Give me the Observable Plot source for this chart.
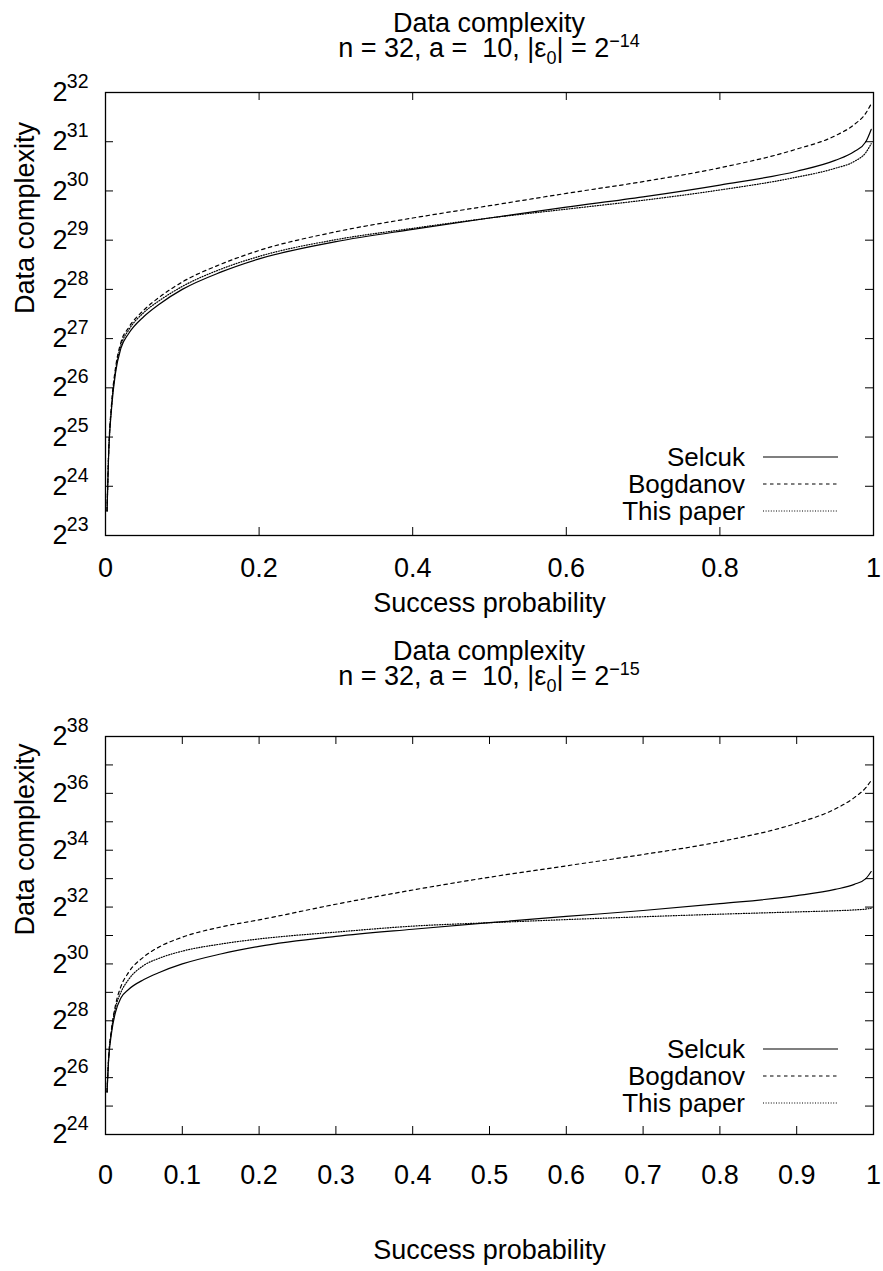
<!DOCTYPE html>
<html><head><meta charset="utf-8">
<script src="https://cdn.jsdelivr.net/npm/d3@7"></script>
<script src="https://cdn.jsdelivr.net/npm/@observablehq/plot@0.6"></script>
<style>
html,body{margin:0;padding:0;background:#fff;}
#page{position:relative;width:883px;height:1271px;overflow:hidden;font-family:"Liberation Sans",Arial,sans-serif;color:#000;}
.panel{position:absolute;left:0;width:883px;}
.panel svg{position:absolute;left:0;top:0;}
.title{position:absolute;left:105px;width:768px;text-align:center;font-size:27px;line-height:25px;white-space:pre;}
.sup{font-size:18px;position:relative;top:-10px;line-height:0;}
.sub{font-size:18px;position:relative;top:7px;line-height:0;}
</style></head><body><div id="page"></div>
<script>
// ---- data (exponents of 2) ----
const probs = [0.002,0.004,0.008,0.013,0.02,0.03,0.05,0.07,0.1,0.15,0.2,0.3,0.4,0.5,0.6,0.7,0.8,0.9,0.95,0.975,0.99,0.997];
const seriesNames = ["Selcuk", "Bogdanov", "This paper"];

const topSelcuk    = [23.5,24.6,25.6,26.3,26.8,27.1,27.45,27.7,28.0,28.35,28.62,28.97,29.22,29.45,29.67,29.88,30.12,30.4,30.62,30.8,31.0,31.25];
const topBogdanov  = [23.5,24.65,25.7,26.4,26.92,27.22,27.58,27.84,28.15,28.51,28.79,29.17,29.45,29.7,29.95,30.19,30.47,30.85,31.12,31.35,31.58,31.77];
const topThisPaper = [23.5,24.62,25.65,26.35,26.86,27.17,27.53,27.77,28.06,28.41,28.67,29.01,29.24,29.45,29.63,29.81,30.02,30.28,30.46,30.6,30.78,30.96];

const botSelcuk    = [25.5,26.6,27.6,28.3,28.8,29.1,29.45,29.7,30.0,30.35,30.62,30.97,31.22,31.45,31.67,31.88,32.12,32.4,32.62,32.8,33.0,33.25];
const botBogdanov  = [25.5,26.65,27.75,28.55,29.2,29.7,30.25,30.6,30.94,31.3,31.55,32.1,32.6,33.05,33.45,33.85,34.3,34.95,35.45,35.85,36.2,36.45];
const botThisPaper = [25.5,26.65,27.7,28.45,29.0,29.45,29.95,30.2,30.45,30.7,30.88,31.12,31.33,31.45,31.56,31.66,31.75,31.83,31.87,31.9,31.93,31.96];

const topXTicks  = [0,0.2,0.4,0.6,0.8,1];
const topXLabels = ["0","0.2","0.4","0.6","0.8","1"];
const topYTicks  = [23,24,25,26,27,28,29,30,31,32];
const topYLabelTicks = [23,24,25,26,27,28,29,30,31,32];

const botXTicks  = [0,0.1,0.2,0.3,0.4,0.5,0.6,0.7,0.8,0.9,1];
const botXLabels = ["0","0.1","0.2","0.3","0.4","0.5","0.6","0.7","0.8","0.9","1"];
const botYTicks  = [24,25,26,27,28,29,30,31,32,33,34,35,36,37,38];
const botYLabelTicks = [24,26,28,30,32,34,36,38];

const titleLine1 = "Data complexity";
const epsExponents = ["−14", "−15"];
const xTitle = "Success probability";
const yTitle = "Data complexity";

const dashes = {"Selcuk": null, "Bogdanov": "3.5,3.5", "This paper": "1,1.6"};

// ---- drawing ----
const page = document.getElementById("page");
const W = 883, ML = 105, MR = 10;

function panel(cfg) {
  const div = document.createElement("div");
  div.className = "panel";
  div.style.top = cfg.top + "px";
  div.style.height = cfg.height + "px";
  page.appendChild(div);

  const innerW = W - ML - MR;
  const innerH = cfg.height - cfg.marginTop - cfg.marginBottom;
  const data = cfg.series.flatMap((vals, s) => vals.map((v, i) => ({p: probs[i], v, s: seriesNames[s]})));

  const chart = Plot.plot({
    width: W, height: cfg.height,
    marginLeft: ML, marginRight: MR, marginTop: cfg.marginTop, marginBottom: cfg.marginBottom,
    style: {fontFamily: "Liberation Sans, Arial, sans-serif", color: "black", background: "transparent", overflow: "visible"},
    x: {domain: [0, 1]},
    y: {domain: cfg.yDomain, axis: null},
    marks: [
      Plot.tickY(cfg.yTicks, {y: d => d, insetRight: innerW - 8, stroke: "black", strokeWidth: 1}),
      Plot.tickY(cfg.yTicks, {y: d => d, insetLeft: innerW - 8, stroke: "black", strokeWidth: 1}),
      Plot.tickX(cfg.xTicks, {x: d => d, insetTop: innerH - 8, stroke: "black", strokeWidth: 1}),
      Plot.tickX(cfg.xTicks, {x: d => d, insetBottom: innerH - 8, stroke: "black", strokeWidth: 1}),
      ...seriesNames.map(name => Plot.line(data.filter(d => d.s === name), {
        x: "p", y: "v", stroke: "black", strokeWidth: 1.2,
        strokeDasharray: dashes[name], curve: "monotone-x", clip: true
      })),
      Plot.frame({stroke: "black", strokeWidth: 1.3}),
      Plot.axisX(cfg.xTicks, {tickSize: 0, tickPadding: cfg.xTickPadding, fontSize: 27,
        tickFormat: d => cfg.xLabels[cfg.xTicks.indexOf(d)], label: null}),
      Plot.text(cfg.yLabelTicks, {y: d => d, frameAnchor: "left", text: () => "2", textAnchor: "end", dx: -38, fontSize: 27}),
      Plot.text(cfg.yLabelTicks, {y: d => d, frameAnchor: "left", text: d => String(d), textAnchor: "end", dx: -17, dy: -11, fontSize: 19.5}),
      Plot.text([xTitle], {text: d => d, frameAnchor: "bottom", dy: cfg.xLabelDy, fontSize: 27}),
      Plot.text([yTitle], {text: d => d, frameAnchor: "left", dx: -80, rotate: -90, fontSize: 27})
    ]
  });
  div.appendChild(chart);

  // title
  const t = document.createElement("div");
  t.className = "title";
  t.style.top = cfg.titleTop + "px";
  t.innerHTML = `${titleLine1}<br>n = 32, a =  10, |ε<span class="sub">0</span>| = 2<span class="sup">${cfg.epsExp}</span>`;
  div.appendChild(t);

  // legend
  const lg = d3.select(div).append("svg").attr("width", W).attr("height", cfg.height)
    .style("pointer-events", "none");
  seriesNames.forEach((name, i) => {
    const y = cfg.legendY + i * 27;
    lg.append("text").attr("x", 745).attr("y", y).attr("text-anchor", "end")
      .attr("dy", "0.35em").attr("font-size", 26)
      .attr("font-family", "Liberation Sans, Arial, sans-serif").text(name);
    lg.append("line").attr("x1", 763).attr("x2", 838).attr("y1", y).attr("y2", y)
      .attr("stroke", "black").attr("stroke-width", 1.2)
      .attr("stroke-dasharray", dashes[name]);
  });
}

panel({top: 0, height: 635, marginTop: 92, marginBottom: 100, yDomain: [23, 32],
  series: [topSelcuk, topBogdanov, topThisPaper],
  xTicks: topXTicks, xLabels: topXLabels, yTicks: topYTicks, yLabelTicks: topYLabelTicks,
  xTickPadding: 22, xLabelDy: 76, titleTop: 11, epsExp: epsExponents[0], legendY: 457});

panel({top: 635, height: 636, marginTop: 101, marginBottom: 137, yDomain: [24, 38],
  series: [botSelcuk, botBogdanov, botThisPaper],
  xTicks: botXTicks, xLabels: botXLabels, yTicks: botYTicks, yLabelTicks: botYLabelTicks,
  xTickPadding: 30, xLabelDy: 124, titleTop: 4, epsExp: epsExponents[1], legendY: 414});
</script></body></html>
